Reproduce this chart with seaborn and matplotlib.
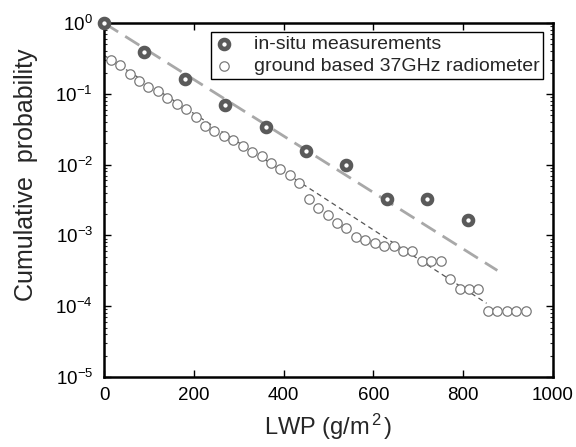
import numpy as np
import pandas as pd
import matplotlib
matplotlib.use("Agg")
import matplotlib.pyplot as plt
import seaborn as sns

# In-situ measurements
insitu_lwp = [0, 90, 180, 270, 360, 450, 540, 630, 720, 810]
insitu_prob = [1.0, 0.393, 0.160, 0.0685, 0.0341, 0.0155, 0.0098, 0.00331, 0.00331, 0.00167]

# Ground based 37GHz radiometer
radio_lwp = [15, 36, 57, 78, 99, 120, 141, 162, 183, 204, 225, 246, 267, 288, 309,
             330, 351, 372, 393, 414, 435, 456, 477, 498, 519, 540, 561, 582, 603,
             624, 645, 666, 687, 708, 729, 750, 771, 792, 813, 834, 855, 876, 897,
             918, 939]
radio_prob = [0.300, 0.255, 0.190, 0.151, 0.123, 0.110, 0.0878, 0.0715, 0.0602,
              0.0464, 0.0349, 0.0300, 0.0252, 0.0221, 0.0184, 0.0151, 0.0131,
              0.0107, 0.00881, 0.00708, 0.00551, 0.00324, 0.00247, 0.00192,
              0.00152, 0.00127, 0.000949, 0.000873, 0.000781, 0.000701, 0.000701,
              0.000596, 0.000596, 0.000434, 0.000434, 0.000434, 0.000245,
              0.000177, 0.000177, 0.000177, 0.0000867, 0.0000867, 0.0000867,
              0.0000867, 0.0000867]

# Fit lines
fit_insitu_lwp = [0, 876]
fit_insitu_prob = [1.0, 3.2e-4]
fit_radio_lwp = [0, 852]
fit_radio_prob = [0.35, 1.1e-4]

x_ticks = [0, 200, 400, 600, 800, 1000]
y_ticks = [1e-5, 1e-4, 1e-3, 1e-2, 1e-1, 1e0]
y_tick_labels = [r"$10^{-5}$", r"$10^{-4}$", r"$10^{-3}$", r"$10^{-2}$", r"$10^{-1}$", r"$10^{0}$"]

sns.set_theme(style="ticks")
plt.rcParams["font.family"] = ["Liberation Sans", "DejaVu Sans"]
plt.rcParams["mathtext.fontset"] = "custom"
plt.rcParams["mathtext.rm"] = "Liberation Sans"
plt.rcParams["mathtext.it"] = "Liberation Sans"
plt.rcParams["mathtext.default"] = "regular"

fig = plt.figure(figsize=(5.76, 4.47), dpi=100)
ax = fig.add_axes([0.1806, 0.1566, 0.7795, 0.7919])

df_in = pd.DataFrame({"lwp": insitu_lwp, "p": insitu_prob})
df_ra = pd.DataFrame({"lwp": radio_lwp, "p": radio_prob})
df_f1 = pd.DataFrame({"lwp": fit_insitu_lwp, "p": fit_insitu_prob})
df_f2 = pd.DataFrame({"lwp": fit_radio_lwp, "p": fit_radio_prob})

sns.lineplot(data=df_f1, x="lwp", y="p", ax=ax, color="#a8a8a8", lw=2.0, zorder=1)
ax.lines[-1].set_dashes([6, 3])
sns.lineplot(data=df_f2, x="lwp", y="p", ax=ax, color="#555555", lw=0.9, zorder=1)
ax.lines[-1].set_dashes([4, 3])

sns.scatterplot(data=df_ra, x="lwp", y="p", ax=ax, s=46, color="white",
                edgecolor="#7a7a7a", linewidth=0.9, zorder=3,
                label="ground based 37GHz radiometer")
sns.scatterplot(data=df_in, x="lwp", y="p", ax=ax, s=42, color="white",
                edgecolor="#5a5a5a", linewidth=3.3, zorder=4, clip_on=False,
                label="in-situ measurements")

ax.set_yscale("log")
ax.set_xlim(0, 1000)
ax.set_ylim(1e-5, 1)
ax.set_xticks(x_ticks)
ax.set_xticklabels([str(t) for t in x_ticks])
ax.set_yticks(y_ticks)
ax.set_yticklabels(y_tick_labels)
ax.yaxis.set_minor_locator(matplotlib.ticker.LogLocator(base=10, subs=np.arange(2, 10), numticks=20))
ax.yaxis.set_minor_formatter(matplotlib.ticker.NullFormatter())

ax.tick_params(axis="both", which="major", direction="in", length=5, width=1.0,
               top=True, right=True, labelsize=13.5, colors="black")
ax.tick_params(axis="x", which="major", pad=7)
ax.tick_params(axis="y", which="major", pad=8)
ax.tick_params(axis="y", which="minor", direction="in", length=2.5, width=0.8,
               left=True, right=True)
for sp in ax.spines.values():
    sp.set_linewidth(1.8)
    sp.set_color("black")

ax.set_xlabel(r"LWP (g/m$^{\,2\,}$)", fontsize=17, labelpad=6)
ax.set_ylabel("Cumulative  probability", fontsize=18)
ax.yaxis.set_label_coords(-0.148, 0.57)

h, l = ax.get_legend_handles_labels()
order = [l.index("in-situ measurements"), l.index("ground based 37GHz radiometer")]
leg = ax.legend([h[i] for i in order], [l[i] for i in order], loc="upper right",
                bbox_to_anchor=(0.978, 0.975), borderaxespad=0, fontsize=14,
                frameon=True, fancybox=False, framealpha=1, edgecolor="black",
                handletextpad=1.0, borderpad=0.2, labelspacing=0.2, handlelength=1.0)
leg.get_frame().set_linewidth(1.0)

fig.savefig("out.png", dpi=100)
